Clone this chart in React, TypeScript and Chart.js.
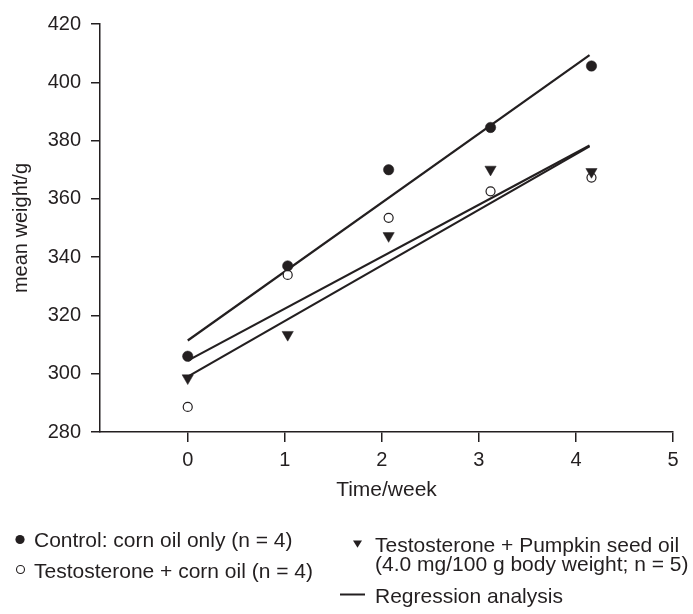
import React, { useEffect, useRef } from "react";
import { Chart, registerables } from "chart.js";

Chart.register(...registerables);

// ---- data ----
const weeks = [0, 1.03, 2.07, 3.12, 4.16];
const controlWeights = [306, 337, 370, 384.5, 405.6];
const testosteroneCornWeights = [288.6, 333.9, 353.5, 362.6, 367.3];
const pumpkinWeights = [298.5, 313.4, 347.3, 370.1, 369.3];

const regressionWeeks = [0, 4.14];
const controlRegression = [311.4, 409.3];
const cornRegression = [304.5, 378.3];
const pumpkinRegression = [299, 378];

const xTicks = [0, 1, 2, 3, 4, 5];
const yTicks = [280, 300, 320, 340, 360, 380, 400, 420];

const xTitle = "Time/week";
const yTitle = "mean weight/g";
const legendControl = "Control: corn oil only (n = 4)";
const legendCorn = "Testosterone + corn oil (n = 4)";
const legendPumpkin = ["Testosterone + Pumpkin seed oil", "(4.0 mg/100 g body weight; n = 5)"];
const legendRegression = "Regression analysis";

const INK = "#231f20";
const FONT = "'Liberation Sans', Arial, Helvetica, sans-serif";

const toPoints = (xs: number[], ys: number[]) => xs.map((x, i) => ({ x, y: ys[i] }));

const legendPlugin = {
  id: "customLegend",
  afterDraw(chart: any) {
    const ctx: CanvasRenderingContext2D = chart.ctx;
    ctx.save();
    ctx.fillStyle = INK;
    ctx.strokeStyle = INK;
    ctx.font = `21px ${FONT}`;
    ctx.textBaseline = "alphabetic";
    ctx.textAlign = "left";

    // filled circle
    ctx.beginPath();
    ctx.arc(20, 539.5, 4.6, 0, Math.PI * 2);
    ctx.fill();
    ctx.fillText(legendControl, 34, 546.5);

    // open circle
    ctx.lineWidth = 1.1;
    ctx.beginPath();
    ctx.arc(20.5, 569.5, 4, 0, Math.PI * 2);
    ctx.stroke();
    ctx.fillText(legendCorn, 34, 577.5);

    // down triangle
    ctx.beginPath();
    ctx.moveTo(353, 540.5);
    ctx.lineTo(362, 540.5);
    ctx.lineTo(357.5, 547.8);
    ctx.closePath();
    ctx.fill();
    ctx.fillText(legendPumpkin[0], 375, 552);
    ctx.fillText(legendPumpkin[1], 375, 571);

    // regression line
    ctx.lineWidth = 2;
    ctx.beginPath();
    ctx.moveTo(340, 594.5);
    ctx.lineTo(365, 594.5);
    ctx.stroke();
    ctx.fillText(legendRegression, 375, 603);
    ctx.restore();
  },
};

export default function App() {
  const canvasRef = useRef<HTMLCanvasElement | null>(null);

  useEffect(() => {
    const canvas = canvasRef.current;
    if (!canvas) return;
    const lineDs = (label: string, ys: number[]) => ({
      type: "line" as const,
      label,
      data: toPoints(regressionWeeks, ys),
      borderColor: INK,
      borderWidth: 2.2,
      pointRadius: 0,
      showLine: true,
      fill: false,
    });
    const chart = new Chart(canvas, {
      type: "scatter",
      data: {
        datasets: [
          {
            label: "Control: corn oil only",
            data: toPoints(weeks, controlWeights),
            pointStyle: "circle",
            pointRadius: 5.2,
            backgroundColor: INK,
            borderColor: INK,
            borderWidth: 0.5,
          },
          {
            label: "Testosterone + Pumpkin seed oil",
            data: toPoints(weeks, pumpkinWeights),
            pointStyle: "triangle",
            pointRotation: 180,
            pointRadius: 6.5,
            backgroundColor: INK,
            borderColor: INK,
            borderWidth: 0.5,
          },
          {
            label: "Testosterone + corn oil",
            data: toPoints(weeks, testosteroneCornWeights),
            pointStyle: "circle",
            pointRadius: 4.5,
            backgroundColor: "#ffffff",
            borderColor: INK,
            borderWidth: 1.2,
          },
          lineDs("Control regression", controlRegression),
          lineDs("Corn oil regression", cornRegression),
          lineDs("Pumpkin regression", pumpkinRegression),
        ] as any,
      },
      options: {
        responsive: false,
        animation: false,
        layout: { padding: { left: 0, right: 20, top: 24, bottom: 0 } },
        plugins: {
          legend: { display: false },
          tooltip: { enabled: false },
        },
        elements: { line: { tension: 0 } },
        scales: {
          x: {
            type: "linear",
            min: -0.904,
            max: 5,
            afterBuildTicks: (s: any) => {
              s.ticks = xTicks.map((v) => ({ value: v }));
            },
            afterFit: (s: any) => {
              s.height = 182;
            },
            border: { display: true, color: INK, width: 1.5 },
            grid: {
              drawOnChartArea: false,
              drawTicks: true,
              tickLength: 10,
              color: INK,
              lineWidth: 1.5,
            },
            ticks: {
              color: INK,
              font: { family: FONT, size: 20 },
              padding: 6,
              maxRotation: 0,
              callback: (v: any) => String(v),
            },
            title: {
              display: true,
              text: xTitle,
              color: INK,
              font: { family: FONT, size: 21 },
              padding: { top: 0, bottom: 111 },
            },
          },
          y: {
            type: "linear",
            min: 280,
            max: 420,
            afterBuildTicks: (s: any) => {
              s.ticks = yTicks.map((v) => ({ value: v }));
            },
            afterFit: (s: any) => {
              s.width = 100;
            },
            border: { display: true, color: INK, width: 1.5 },
            grid: {
              drawOnChartArea: false,
              drawTicks: true,
              tickLength: 9,
              color: INK,
              lineWidth: 1.5,
            },
            ticks: {
              color: INK,
              font: { family: FONT, size: 20 },
              padding: 10,
              callback: (v: any) => String(v),
            },
            title: {
              display: true,
              text: yTitle,
              color: INK,
              font: { family: FONT, size: 20 },
              padding: { top: 9, bottom: 0 },
            },
          },
        },
      },
      plugins: [legendPlugin],
    });
    return () => chart.destroy();
  }, []);

  return (
    <div style={{ position: "absolute", left: 0, top: 0, width: 693, height: 614, background: "#fff" }}>
      <canvas ref={canvasRef} width={693} height={614} style={{ display: "block" }} />
    </div>
  );
}
